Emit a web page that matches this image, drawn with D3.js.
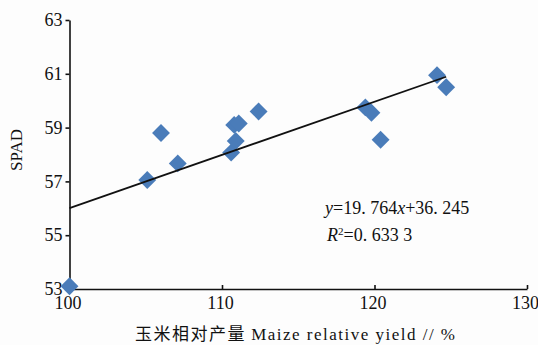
<!DOCTYPE html>
<html>
<head>
<meta charset='utf-8'/>
<title>SPAD vs maize relative yield</title>
<script src='https://d3js.org/d3.v7.min.js'></script>
<style>
  body { margin: 0; background: #fdfdfd; }
  svg { display: block; }
  .num { font-family: 'Liberation Serif', serif; }
  .cjk { font-family: 'Noto Sans CJK SC', sans-serif; }
</style>
</head>
<body>
<script>
'use strict'
// values
const yieldPct = [100, 105.1, 106.0, 107.1, 110.6, 110.9, 110.8, 111.1, 112.4, 119.4, 119.8, 120.4, 124.1, 124.7]
const spad     = [53.1, 57.05, 58.8, 57.67, 58.07, 58.5, 59.1, 59.15, 59.6, 59.75, 59.55, 58.55, 60.95, 60.5]
const xTicks = [100, 110, 120, 130]
const yTicks = [53, 55, 57, 59, 61, 63]
const slope = 19.764, intercept = 36.245

const width = 538, height = 345
const margin = {top: 20, right: 11, bottom: 56, left: 69.5}

const svg = d3.select('body').append('svg')
  .attr('width', width)
  .attr('height', height)

svg.append('rect')
  .attr('width', '100%')
  .attr('height', '100%')
  .attr('fill', '#fdfdfd')

const x = d3.scaleLinear().domain([100, 130]).range([margin.left, width - margin.right])
const y = d3.scaleLinear().domain([53, 63]).range([height - margin.bottom, margin.top])

// y axis
const gy = svg.append('g')
  .attr('transform', `translate(${margin.left},0)`)
  .call(d3.axisLeft(y).tickValues(yTicks).tickSize(4).tickSizeOuter(0).tickPadding(3))
gy.attr('font-family', null)
gy.selectAll('text').attr('class', 'num').attr('font-size', 18).attr('fill', '#111')

// x axis, ticks pointing up
const gx = svg.append('g')
  .attr('transform', `translate(0,${height - margin.bottom})`)
  .call(d3.axisBottom(x).tickValues(xTicks).tickSize(-4).tickSizeOuter(0).tickPadding(7))
gx.attr('font-family', null)
gx.selectAll('text').attr('class', 'num').attr('font-size', 18).attr('fill', '#111')
  .attr('dx', -2)

svg.selectAll('.domain, .tick line').attr('stroke', '#111').attr('stroke-width', 1.6)

// axis titles
svg.append('text')
  .attr('class', 'num')
  .attr('transform', 'translate(22,150) rotate(-90)')
  .attr('text-anchor', 'middle')
  .attr('font-size', 17)
  .attr('fill', '#111')
  .text('SPAD')

const xt = svg.append('text')
  .attr('x', 135)
  .attr('y', 340)
  .attr('font-size', 17)
  .attr('fill', '#111')
  .attr('textLength', 320)
  .attr('lengthAdjust', 'spacing')
xt.append('tspan').attr('class', 'cjk').text('玉米相对产量 ')
xt.append('tspan').attr('class', 'num').text('Maize relative yield // %')

// points
const diamond = d3.symbol().type(d3.symbolSquare).size(160)
svg.append('g').selectAll('path')
  .data(d3.zip(yieldPct, spad))
  .join('path')
  .attr('d', diamond)
  .attr('transform', d => `translate(${x(d[0])},${y(d[1])}) rotate(45)`)
  .attr('fill', '#4a7cb9')

// regression line over the data range
const xr = d3.extent(yieldPct)
const line = d3.line().x(d => x(d)).y(d => y(slope * d / 100 + intercept))
svg.append('path')
  .attr('d', line(xr))
  .attr('fill', 'none')
  .attr('stroke', '#111')
  .attr('stroke-width', 1.8)

// equation
const eq = svg.append('text')
  .attr('class', 'num')
  .attr('x', 325).attr('y', 214)
  .attr('font-size', 18).attr('fill', '#111')
eq.append('tspan').attr('font-style', 'italic').text('y')
eq.append('tspan').text('=19. 764')
eq.append('tspan').attr('font-style', 'italic').text('x')
eq.append('tspan').text('+36. 245')

const r2 = svg.append('text')
  .attr('class', 'num')
  .attr('x', 327).attr('y', 241)
  .attr('font-size', 18).attr('fill', '#111')
r2.append('tspan').attr('font-style', 'italic').text('R')
r2.append('tspan').attr('font-size', 11).attr('dy', -6).text('2')
r2.append('tspan').attr('dy', 6).text('=0. 633  3')
</script>
</body>
</html>
